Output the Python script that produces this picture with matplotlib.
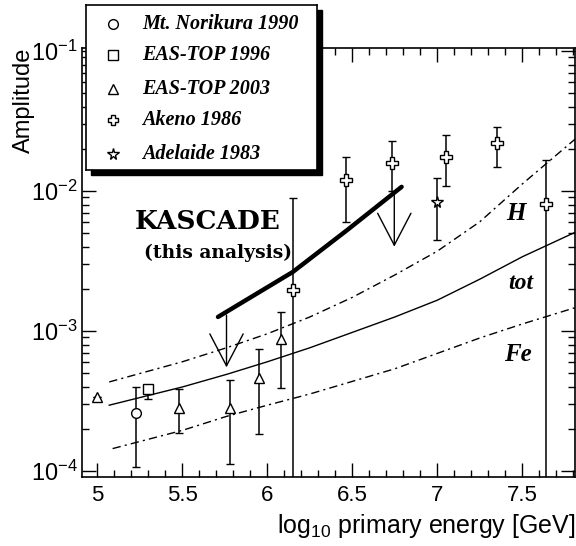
import numpy as np
import matplotlib
matplotlib.use("Agg")
import matplotlib.pyplot as plt
from matplotlib.patches import Rectangle
from matplotlib.ticker import FixedLocator, FixedFormatter, MultipleLocator, LogLocator, NullFormatter

plt.rcParams['font.family'] = ['Liberation Sans', 'DejaVu Sans']

# ---------------- data ----------------
# Mt. Norikura 1990
nori_x = [5.23]
nori_y = [2.6e-4]
nori_lo = [1.07e-4]
nori_hi = [4.0e-4]

# EAS-TOP 1996
eas96_x = [5.30]
eas96_y = [3.85e-4]
eas96_lo = [3.27e-4]
eas96_hi = [4.0e-4]

# EAS-TOP 2003
eas03_x = [5.00, 5.48, 5.78, 5.95, 6.08]
eas03_y = [3.4e-4, 2.8e-4, 2.8e-4, 4.6e-4, 8.8e-4]
eas03_lo = [3.4e-4, 1.87e-4, 1.12e-4, 1.84e-4, 3.9e-4]
eas03_hi = [3.4e-4, 3.85e-4, 4.5e-4, 7.4e-4, 1.37e-3]

# Akeno 1986
akeno_x = [6.15, 6.465, 6.735, 7.05, 7.35, 7.64]
akeno_y = [1.96e-3, 1.2e-2, 1.58e-2, 1.75e-2, 2.2e-2, 8.1e-3]
akeno_lo = [1e-5, 6.0e-3, 1.0e-2, 1.09e-2, 1.48e-2, 1e-5]
akeno_hi = [8.9e-3, 1.75e-2, 2.27e-2, 2.5e-2, 2.86e-2, 1.66e-2]

# Adelaide 1983
adel_x = [7.0]
adel_y = [8.3e-3]
adel_lo = [4.46e-3]
adel_hi = [1.24e-2]

# KASCADE upper limit curve
kas_x = [5.71, 6.15, 6.47, 6.79]
kas_y = [1.26e-3, 2.64e-3, 5.26e-3, 1.07e-2]
# KASCADE upper-limit arrows
arrow_x = [5.76, 6.747]
arrow_from = [1.3e-3, 9.8e-3]
arrow_to = [5.5e-4, 4.0e-3]

# Expectation curves (read as log10 amplitude)
H_x = [5.07, 5.5, 5.76, 6.0, 6.25, 6.5, 6.75, 7.0, 7.25, 7.5, 7.82]
H_log = [-3.364, -3.22, -3.12, -3.02, -2.90, -2.76, -2.60, -2.43, -2.22, -1.95, -1.62]
tot_x = [5.07, 5.5, 5.76, 6.0, 6.25, 6.5, 6.75, 7.0, 7.25, 7.5, 7.82]
tot_log = [-3.53, -3.40, -3.31, -3.22, -3.12, -3.01, -2.90, -2.78, -2.63, -2.47, -2.29]
Fe_x = [5.09, 5.5, 5.76, 6.0, 6.25, 6.5, 6.75, 7.0, 7.25, 7.5, 7.82]
Fe_log = [-3.84, -3.71, -3.61, -3.53, -3.45, -3.36, -3.27, -3.16, -3.05, -2.95, -2.83]

x_ticks = [5, 5.5, 6, 6.5, 7, 7.5]
x_ticklabels = ['5', '5.5', '6', '6.5', '7', '7.5']
y_ticks = [1e-4, 1e-3, 1e-2, 1e-1]
y_ticklabels = [r'$\mathregular{10^{-4}}$', r'$\mathregular{10^{-3}}$',
                r'$\mathregular{10^{-2}}$', r'$\mathregular{10^{-1}}$']

legend_labels = ['Mt. Norikura 1990', 'EAS-TOP 1996', 'EAS-TOP 2003', 'Akeno 1986', 'Adelaide 1983']
legend_markers = ['o', 's', '^', 'P', '*']

# ---------------- figure ----------------
W, H = 576, 546
fig = plt.figure(figsize=(W / 100, H / 100), dpi=100)
ax = fig.add_axes([82 / W, 1 - 477 / H, (575 - 82) / W, (477 - 48) / H])
ax.set_yscale('log')
ax.set_xlim(4.91, 7.81)
ax.set_ylim(9.06e-5, 0.105)

def eb(x, y, lo, hi, m, ms=7):
    y = np.array(y); lo = np.array(lo); hi = np.array(hi)
    ax.errorbar(x, y, yerr=[y - lo, hi - y], fmt=m, ms=ms, mfc='white', mec='black',
                mew=1.0, ecolor='black', elinewidth=1.1, capsize=3, capthick=1.1, zorder=4)

dashdot = (0, (6, 3, 1.5, 3))
ax.plot(H_x, 10.0 ** np.array(H_log), color='black', lw=1.0, ls=dashdot, zorder=2)
ax.plot(tot_x, 10.0 ** np.array(tot_log), color='black', lw=1.0, ls='-', zorder=2)
ax.plot(Fe_x, 10.0 ** np.array(Fe_log), color='black', lw=1.0, ls=dashdot, zorder=2)

eb(nori_x, nori_y, nori_lo, nori_hi, 'o')
eb(eas96_x, eas96_y, eas96_lo, eas96_hi, 's')
eb(eas03_x, eas03_y, eas03_lo, eas03_hi, '^', ms=7.5)
eb(akeno_x, akeno_y, akeno_lo, akeno_hi, 'P', ms=8)
eb(adel_x, adel_y, adel_lo, adel_hi, '*', ms=8.5)

# KASCADE
ax.plot(kas_x, kas_y, color='black', lw=3.2, solid_capstyle='round', zorder=5)
for xa, yf, yt in zip(arrow_x, arrow_from, arrow_to):
    ax.annotate('', xy=(xa, yt), xytext=(xa, yf),
                arrowprops=dict(arrowstyle='->,head_length=2.3,head_width=1.2',
                                lw=1.0, color='black', shrinkA=0, shrinkB=0,
                                mutation_scale=10), zorder=5)

ax.text(5.65, 10 ** -2.22, 'KASCADE', family='DejaVu Serif', weight='bold',
        fontsize=19, ha='center', va='center')
ax.text(5.71, 10 ** -2.445, '(this analysis)', family='DejaVu Serif', weight='bold',
        fontsize=13.5, ha='center', va='center')
ax.text(7.46, 10 ** -2.16, 'H', family='Liberation Serif', style='italic', weight='bold',
        fontsize=18, ha='center', va='center')
ax.text(7.49, 10 ** -2.66, 'tot', family='Liberation Serif', style='italic', weight='bold',
        fontsize=17, ha='center', va='center')
ax.text(7.476, 10 ** -3.17, 'Fe', family='Liberation Serif', style='italic', weight='bold',
        fontsize=18, ha='center', va='center')

# axes styling
ax.xaxis.set_major_locator(FixedLocator(x_ticks))
ax.xaxis.set_major_formatter(FixedFormatter(x_ticklabels))
ax.xaxis.set_minor_locator(MultipleLocator(0.1))
ax.yaxis.set_major_locator(FixedLocator(y_ticks))
ax.yaxis.set_major_formatter(FixedFormatter(y_ticklabels))
ax.yaxis.set_minor_locator(LogLocator(base=10, subs=np.arange(2, 10)))
ax.yaxis.set_minor_formatter(NullFormatter())
ax.tick_params(which='both', direction='in', top=True, right=True, width=1.0)
ax.tick_params(which='major', length=10)
ax.tick_params(which='minor', length=5)
ax.tick_params(axis='x', which='major', labelsize=16, pad=6)
ax.tick_params(axis='y', which='major', labelsize=17, pad=3)
for s in ax.spines.values():
    s.set_linewidth(1.2)

ax.set_ylabel('Amplitude', fontsize=17, loc='top')
ax.yaxis.set_label_coords(-0.095, 1.0)
ax.set_xlabel(r'log$_{\mathregular{10}}$ primary energy [GeV]', fontsize=18, loc='right', labelpad=4)

# legend box with shadow
lx0, ly0, lx1, ly1 = 86, 5, 317, 170
shadow = Rectangle(((lx0 + 5) / W, 1 - (ly1 + 5) / H), (lx1 - lx0) / W, (ly1 - ly0) / H,
                   transform=fig.transFigure, facecolor='black', edgecolor='black', zorder=9)
fig.patches.append(shadow)
lax = fig.add_axes([lx0 / W, 1 - ly1 / H, (lx1 - lx0) / W, (ly1 - ly0) / H], zorder=10)
lax.set_xlim(lx0, lx1)
lax.set_ylim(ly1, ly0)
lax.set_xticks([]); lax.set_yticks([])
for s in lax.spines.values():
    s.set_linewidth(1.2)
rows = [24, 55, 89, 120, 154]
for r, m, lab in zip(rows, legend_markers, legend_labels):
    lax.plot([113], [r], marker=m, ms=7 if m != '*' else 8.5, mfc='white', mec='black', mew=1.0, ls='none')
    lax.text(142, r, lab, family='Liberation Serif', style='italic', weight='bold',
             fontsize=14.5, ha='left', va='center')

fig.savefig('out.png', dpi=100)
